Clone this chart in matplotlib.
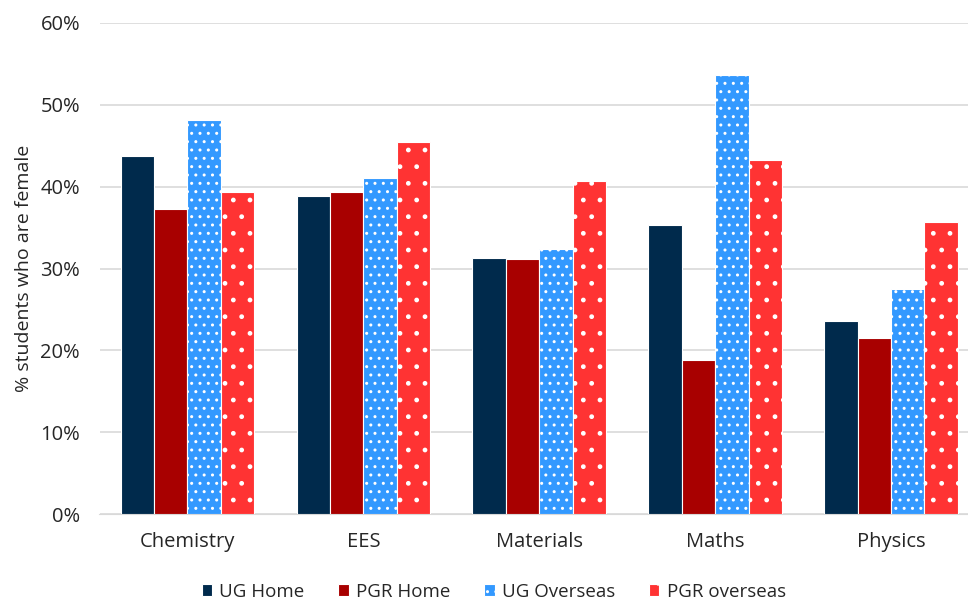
import numpy as np
import matplotlib
matplotlib.use("Agg")
import matplotlib.pyplot as plt
from matplotlib.ticker import PercentFormatter

# ---------------------------
# Data
# ---------------------------
subjects = ["Chemistry", "EES", "Materials", "Maths", "Physics"]
series_names = ["UG Home", "PGR Home", "UG Overseas", "PGR overseas"]
ug_home = [43.7, 38.9, 31.3, 35.3, 23.6]
pgr_home = [37.3, 39.3, 31.2, 18.8, 21.5]
ug_overseas = [48.2, 41.0, 32.4, 53.7, 27.5]
pgr_overseas = [39.3, 45.4, 40.7, 43.2, 35.7]

colors = ["#002A4C", "#A80000", "#3399FF", "#FF3333"]
hatches = [None, None, "..", "."]

plt.rcParams["font.family"] = ["Open Sans", "DejaVu Sans"]
plt.rcParams["hatch.linewidth"] = 1.0

fig = plt.figure(figsize=(9.68, 5.99), dpi=100)
ax = fig.add_axes([99.5 / 968, 85 / 599, 1 - 99.5 / 968, (514 - 23) / 599])

x = np.arange(len(subjects))
w = 0.19
all_series = [ug_home, pgr_home, ug_overseas, pgr_overseas]
for i, vals in enumerate(all_series):
    ax.bar(x + (i - 1.5) * w, np.array(vals) / 100, w,
           color=colors[i], edgecolor="white", linewidth=0.8,
           hatch=hatches[i], label=series_names[i], zorder=3)

ax.set_xlim(-0.5, 4.5 - 11 / 176)
ax.set_ylim(0, 0.6)
ax.set_yticks(np.arange(0, 0.61, 0.1))
ax.yaxis.set_major_formatter(PercentFormatter(1.0, decimals=0))
ax.set_xticks(x)
ax.set_xticklabels(subjects)
ax.grid(axis="y", color="#D9D9D9", linewidth=1.2, zorder=0)
for s in ["top", "right", "left"]:
    ax.spines[s].set_visible(False)
ax.spines["bottom"].set_color("#D9D9D9")
ax.tick_params(axis="both", length=0, labelsize=14.5, colors="#262626")
ax.tick_params(axis="x", pad=13)
ax.tick_params(axis="y", pad=14)
ax.set_ylabel("% students who are female", fontsize=14, color="#262626", labelpad=5)

leg = ax.legend(loc="center", bbox_to_anchor=(0.454, -0.158), ncol=4,
                frameon=False, fontsize=13.5, handlelength=0.55, handleheight=0.55,
                columnspacing=1.8, handletextpad=0.4, borderpad=0)
for t in leg.get_texts():
    t.set_color("#262626")

fig.savefig("out.png", dpi=100)
